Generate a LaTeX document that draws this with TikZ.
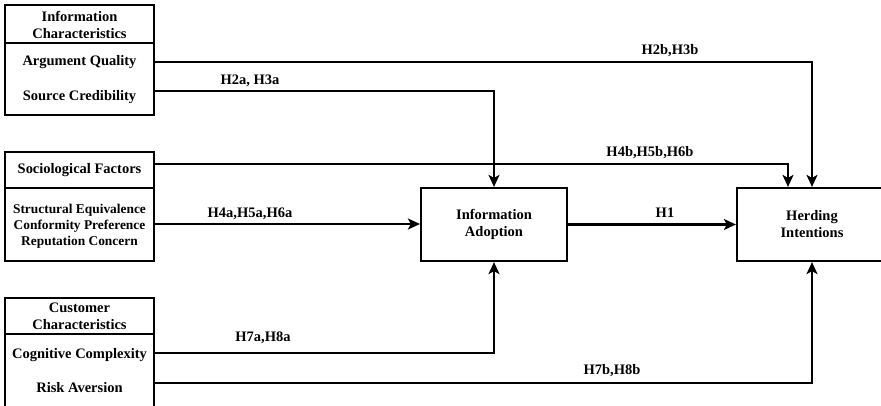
\documentclass[tikz,border=0pt]{standalone}
\usepackage{fontspec}
\setmainfont{Liberation Serif}
\usetikzlibrary{arrows.meta}
\begin{document}
\begin{tikzpicture}[x=1pt,y=-1pt,
  box/.style={draw, line width=2.2pt, inner sep=0pt},
  lbl/.style={font=\fontsize{14.5}{17}\selectfont\bfseries, inner sep=0pt, align=center},
  sub/.style={font=\fontsize{13.4}{16}\selectfont\bfseries, inner sep=0pt, align=center},
  conn/.style={line width=2.2pt, -{Stealth[length=12pt,width=11pt,inset=3pt]}},
  plain/.style={line width=2.2pt},
  hyp/.style={font=\fontsize{14.5}{17}\selectfont\bfseries, inner sep=0pt}]
\clip (0,0) rectangle (881,406);
\fill[white] (0,0) rectangle (881,406);

% Information characteristics
\node[box, minimum width=149pt, minimum height=110pt] (ic) at (79.5,60) {};
\draw[plain] (ic.west |- 0,43) coordinate (icd1) -- (ic.east |- 0,43) coordinate (icd2);
\node[lbl] (ich) at (79.5,24.5) {Information\\Characteristics};
\node[lbl] (aq) at (79.5,62) {Argument Quality};
\node[lbl] (sc) at (79.5,97) {Source Credibility};
\coordinate (aqo) at (154,62);
\coordinate (sco) at (154,91);

% Sociological factors
\node[box, minimum width=149pt, minimum height=109pt] (sf) at (79.5,206.5) {};
\draw[plain] (sf.west |- 0,188) coordinate (sfd1) -- (sf.east |- 0,188) coordinate (sfd2);
\node[lbl] (sfh) at (79.5,170) {Sociological Factors};
\node[sub] (se) at (79.5,226.5) {Structural Equivalence\\Conformity Preference\\Reputation Concern};
\coordinate (sfo) at (154,164);
\coordinate (seo) at (154,224);

% Customer characteristics
\node[box, minimum width=149pt, minimum height=114pt] (cc) at (79.5,355) {};
\draw[plain] (cc.west |- 0,334) coordinate (ccd1) -- (cc.east |- 0,334) coordinate (ccd2);
\node[lbl] (cch) at (79.5,316) {Customer\\Characteristics};
\node[lbl] (cog) at (79.5,355) {Cognitive Complexity};
\node[lbl] (risk) at (79.5,388) {Risk Aversion};
\coordinate (cogo) at (154,353);
\coordinate (risko) at (154,383);

% Central boxes
\node[box, minimum width=146pt, minimum height=73pt, lbl] (ia) at (494,224.5) {Information\\Adoption};
\node[box, minimum width=150pt, minimum height=73pt, lbl] (hi) at (812,224.5) {Herding\\Intentions};

% Connectors
\draw[conn] (aqo) -| (hi.north);
\draw[conn] (sco) -| (ia.north);
\draw[conn] (sfo) -| ([xshift=-24pt]hi.north);
\draw[conn] (seo) -- (ia.west |- seo);
\draw[conn] (ia.east) -- (hi.west);
\draw[conn] (cogo) -| (ia.south);
\draw[conn] (risko) -| (hi.south);

% Labels
\node[hyp] (l1) at (670,51) {H2b,H3b};
\node[hyp] (l2) at (250,81) {H2a, H3a};
\node[hyp] (l3) at (650,153) {H4b,H5b,H6b};
\node[hyp] (l4) at (250,214) {H4a,H5a,H6a};
\node[hyp] (l5) at (665,213) {H1};
\node[hyp] (l6) at (263,338) {H7a,H8a};
\node[hyp] (l7) at (612,371) {H7b,H8b};
\end{tikzpicture}
\end{document}
